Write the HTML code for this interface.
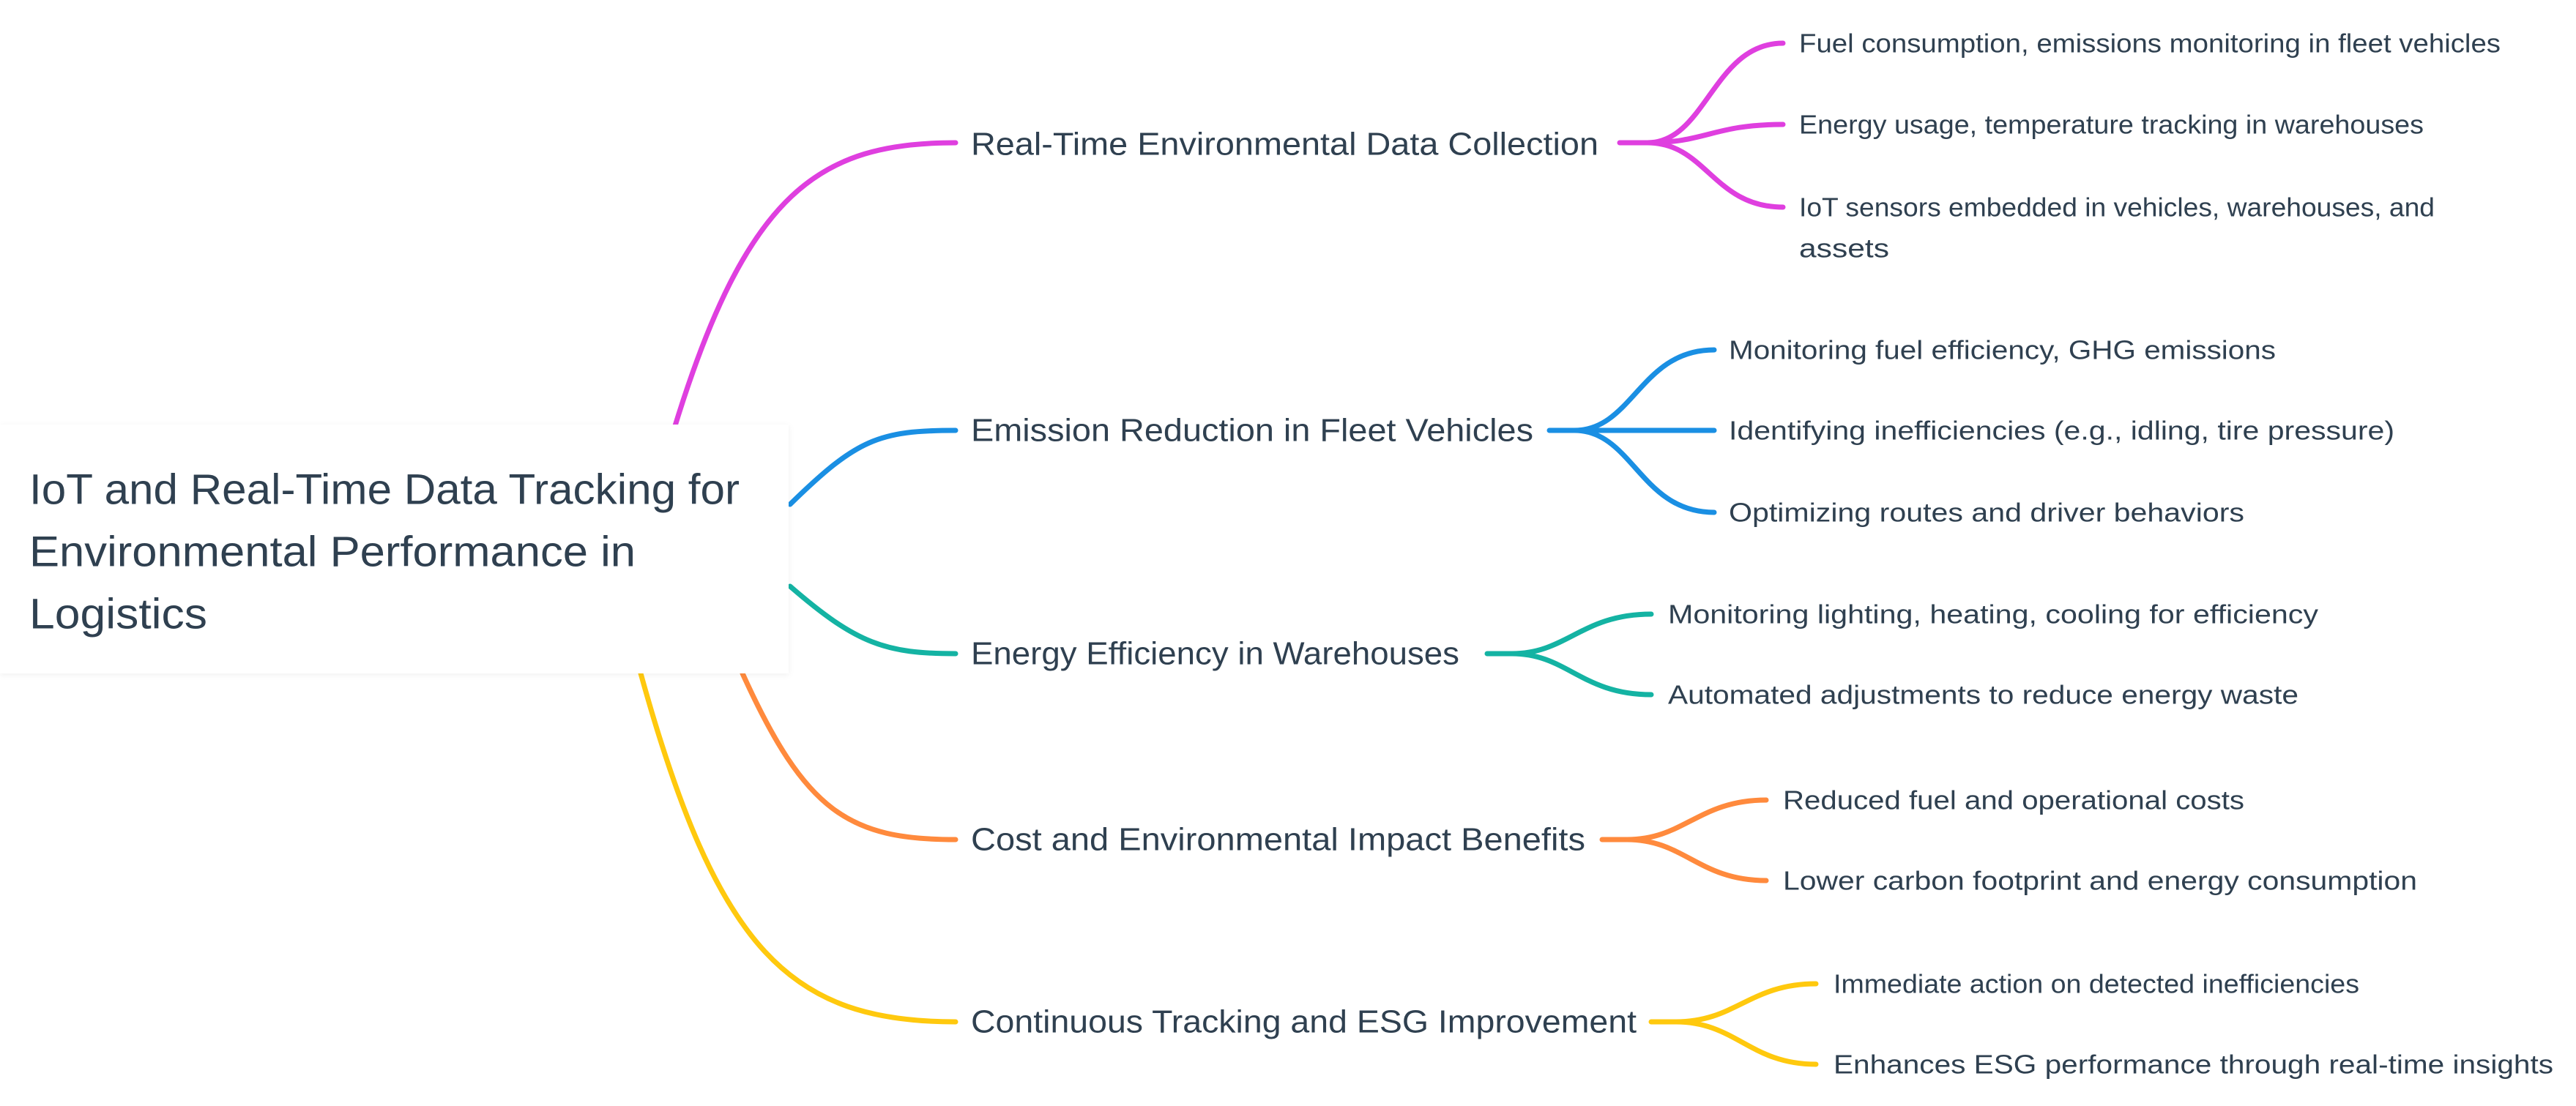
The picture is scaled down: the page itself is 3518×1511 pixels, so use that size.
<!DOCTYPE html>
<html><head><meta charset="utf-8"><style>
html,body{margin:0;padding:0;background:#fff;}
svg{display:block;}
text{font-family:"Liberation Sans",sans-serif;fill:#2f4050;dominant-baseline:central;}
</style></head><body>
<svg width="3518" height="1511" viewBox="0 0 3518 1511" xmlns="http://www.w3.org/2000/svg">
<defs><filter id="sh" x="-5%" y="-10%" width="110%" height="120%"><feDropShadow dx="0" dy="2" stdDeviation="4" flood-color="#000" flood-opacity="0.06"/></filter></defs>
<g fill="none" stroke-width="7" stroke-linecap="round">
<path d="M920,588 C1020,260 1120,195 1305,195" stroke="#df3fdf"/>
<path d="M1079,689 C1170,600 1200,588 1305,588" stroke="#1a8fe3"/>
<path d="M1079,801 C1170,880 1210,893 1305,893" stroke="#14b3a3"/>
<path d="M1014,920 C1100,1110 1160,1147 1305,1147" stroke="#ff8a3d"/>
<path d="M875,920 C980,1300 1080,1396 1305,1396" stroke="#ffc90e"/>

<g stroke="#df3fdf">
<path d="M2212,195 H2265"/>
<path d="M2250,195 C2330,195 2340,59 2435,59"/>
<path d="M2250,195 C2330,195 2340,170 2435,170"/>
<path d="M2250,195 C2330,195 2340,283 2435,283"/>
</g>
<g stroke="#1a8fe3">
<path d="M2116,588 H2165"/>
<path d="M2150,588 C2230,588 2240,478 2341,478"/>
<path d="M2150,588 H2341"/>
<path d="M2150,588 C2230,588 2240,700 2341,700"/>
</g>
<g stroke="#14b3a3">
<path d="M2031,893 H2080"/>
<path d="M2065,893 C2140,893 2160,839 2255,839"/>
<path d="M2065,893 C2140,893 2160,949 2255,949"/>
</g>
<g stroke="#ff8a3d">
<path d="M2188,1147 H2237"/>
<path d="M2222,1147 C2300,1147 2320,1093 2412,1093"/>
<path d="M2222,1147 C2300,1147 2320,1203 2412,1203"/>
</g>
<g stroke="#ffc90e">
<path d="M2255,1396 H2304"/>
<path d="M2289,1396 C2370,1396 2390,1344 2480,1344"/>
<path d="M2289,1396 C2370,1396 2390,1454 2480,1454"/>
</g>
</g>

<rect x="0" y="580" width="1077" height="340" fill="#fff" filter="url(#sh)"/>
<text x="40" y="669" font-size="58" textLength="970" lengthAdjust="spacingAndGlyphs">IoT and Real-Time Data Tracking for</text>
<text x="40" y="754" font-size="58" textLength="828" lengthAdjust="spacingAndGlyphs">Environmental Performance in</text>
<text x="40" y="839" font-size="58" textLength="243" lengthAdjust="spacingAndGlyphs">Logistics</text>

<g font-size="44">
<text x="1326" y="197" textLength="857" lengthAdjust="spacingAndGlyphs">Real-Time Environmental Data Collection</text>
<text x="1326" y="588" textLength="768" lengthAdjust="spacingAndGlyphs">Emission Reduction in Fleet Vehicles</text>
<text x="1326" y="893" textLength="667" lengthAdjust="spacingAndGlyphs">Energy Efficiency in Warehouses</text>
<text x="1326" y="1147" textLength="839" lengthAdjust="spacingAndGlyphs">Cost and Environmental Impact Benefits</text>
<text x="1326" y="1396" textLength="909" lengthAdjust="spacingAndGlyphs">Continuous Tracking and ESG Improvement</text>
</g>

<g font-size="36">
<text x="2457" y="59" textLength="958" lengthAdjust="spacingAndGlyphs">Fuel consumption, emissions monitoring in fleet vehicles</text>
<text x="2457" y="170" textLength="853" lengthAdjust="spacingAndGlyphs">Energy usage, temperature tracking in warehouses</text>
<text x="2457" y="283" textLength="868" lengthAdjust="spacingAndGlyphs">IoT sensors embedded in vehicles, warehouses, and</text>
<text x="2457" y="339" textLength="123" lengthAdjust="spacingAndGlyphs">assets</text>
<text x="2361" y="478" textLength="747" lengthAdjust="spacingAndGlyphs">Monitoring fuel efficiency, GHG emissions</text>
<text x="2361" y="588" textLength="909" lengthAdjust="spacingAndGlyphs">Identifying inefficiencies (e.g., idling, tire pressure)</text>
<text x="2361" y="700" textLength="704" lengthAdjust="spacingAndGlyphs">Optimizing routes and driver behaviors</text>
<text x="2278" y="839" textLength="888" lengthAdjust="spacingAndGlyphs">Monitoring lighting, heating, cooling for efficiency</text>
<text x="2278" y="949" textLength="861" lengthAdjust="spacingAndGlyphs">Automated adjustments to reduce energy waste</text>
<text x="2435" y="1093" textLength="630" lengthAdjust="spacingAndGlyphs">Reduced fuel and operational costs</text>
<text x="2435" y="1203" textLength="866" lengthAdjust="spacingAndGlyphs">Lower carbon footprint and energy consumption</text>
<text x="2504" y="1344" textLength="718" lengthAdjust="spacingAndGlyphs">Immediate action on detected inefficiencies</text>
<text x="2504" y="1454" textLength="983" lengthAdjust="spacingAndGlyphs">Enhances ESG performance through real-time insights</text>
</g>
</svg>
</body></html>
